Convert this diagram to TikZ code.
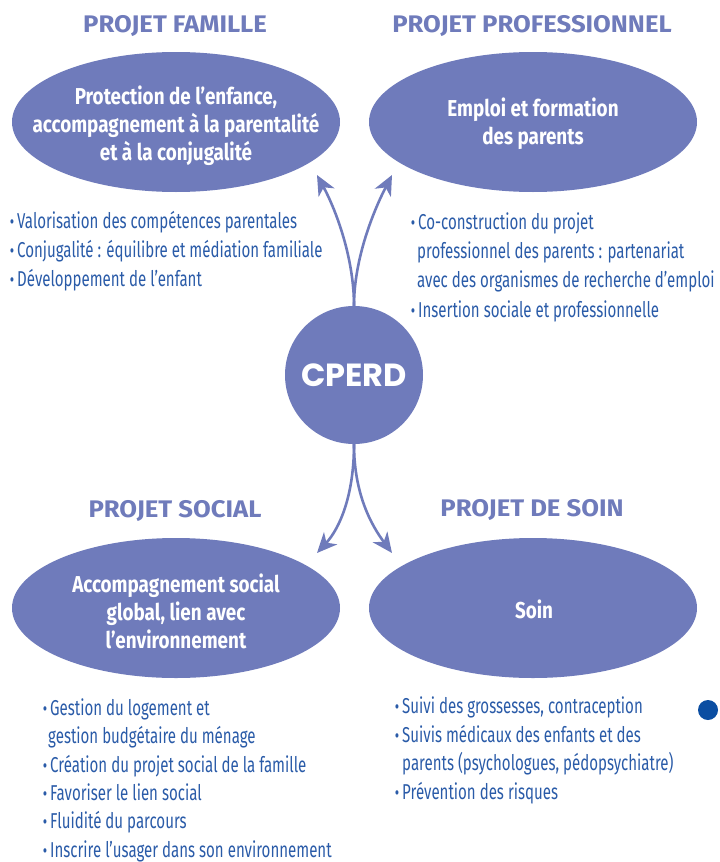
\documentclass[tikz,border=0pt]{standalone}
\usepackage{fontspec}
\usepackage{graphicx}
\usetikzlibrary{shapes.geometric,arrows.meta}
\newfontfamily\bodyfont[FakeStretch=0.70]{Fira Sans}
\newfontfamily\ellfont[FakeStretch=0.82]{Fira Sans}
\newfontfamily\ttlfont[FakeStretch=1.07]{Fira Sans}
\newfontfamily\logofont{Poppins}
\definecolor{violet}{HTML}{6F7BBB}
\definecolor{bluetxt}{HTML}{2A5BA8}
\definecolor{dotblue}{HTML}{0B4EA2}
\newcommand{\blt}{\llap{\scalebox{0.9}{\textbullet}\hspace{3pt}}}
\tikzset{
  ell/.style={ellipse, fill=violet, minimum width=328pt, minimum height=140pt, inner sep=0pt},
  elltext/.style={text=white, align=center, inner sep=0pt, font=\ellfont\bfseries\fontsize{23}{28}\selectfont},
  ttl/.style={text=violet, font=\ttlfont\bfseries\fontsize{24}{28}\selectfont, anchor=center},
  bl/.style={text=bluetxt, font=\bodyfont\fontsize{21.5}{29}\selectfont, anchor=base west, inner sep=0pt},
  conn/.style={draw=violet, line width=2.6pt, -{Stealth[length=20pt,width=18pt,inset=6pt]}}
}
\begin{document}
\begin{tikzpicture}[x=1pt,y=-1pt]
\useasboundingbox (0,0) rectangle (720,862);
% titles
\node[ttl] (t1) at (175,26) {PROJET FAMILLE};
\node[ttl] (t2) at (532,26) {PROJET PROFESSIONNEL};
\node[ttl] (t3) at (175,511) {PROJET SOCIAL};
\node[ttl] (t4) at (532,510) {PROJET DE SOIN};
% ellipses
\node[ell] (e1) at (176,122) {};
\node[ell] (e2) at (533,122) {};
\node[ell] (e3) at (176,608) {};
\node[ell] (e4) at (533,608) {};
\node[elltext] (e1t) at (176,126) {Protection de l’enfance,\\accompagnement à la parentalité\\et à la conjugalité};
\node[elltext] (e2t) at (533,124) {Emploi et formation\\des parents};
\node[elltext] (e3t) at (176,611) {Accompagnement social\\global, lien avec\\l’environnement};
\node[elltext] (e4t) at (534,609) {Soin};
% center
\node[circle, fill=violet, minimum size=138pt, inner sep=0pt, text=white,
  font=\logofont\bfseries\fontsize{32}{36}\selectfont] (cperd) at (354,375) {CPERD};
% arrow tips
\coordinate (a1) at (317,175);
\coordinate (a2) at (392,175);
\coordinate (a3) at (317,553);
\coordinate (a4) at (392,553);
\draw[conn] (cperd.north) .. controls (354,258) and (336,210) .. (a1);
\draw[conn] (cperd.north) .. controls (354,258) and (374,210) .. (a2);
\draw[conn] (cperd.south) .. controls (354,495) and (340,528) .. (a3);
\draw[conn] (cperd.south) .. controls (354,495) and (372,526) .. (a4);
% list 1
\node[bl] (l11) at (17,228) {\blt Valorisation des compétences parentales};
\node[bl] (l12) at (17,257) {\blt Conjugalité : équilibre et médiation familiale};
\node[bl] (l13) at (17,286) {\blt Développement de l’enfant};
% list 2
\node[bl] (l21) at (418,229) {\blt Co-construction du projet};
\node[bl] (l22) at (417,258) {professionnel des parents : partenariat};
\node[bl] (l23) at (417,287) {avec des organismes de recherche d’emploi};
\node[bl] (l24) at (418,317) {\blt Insertion sociale et professionnelle};
% list 3
\node[bl] (l31) at (50,715) {\blt Gestion du logement et};
\node[bl] (l32) at (48,743) {gestion budgétaire du ménage};
\node[bl] (l33) at (50,772) {\blt Création du projet social de la famille};
\node[bl] (l34) at (50,800) {\blt Favoriser le lien social};
\node[bl] (l35) at (50,828) {\blt Fluidité du parcours};
\node[bl] (l36) at (50,857) {\blt Inscrire l’usager dans son environnement};
% list 4
\node[bl] (l41) at (402,713) {\blt Suivi des grossesses, contraception};
\node[bl] (l42) at (402,742) {\blt Suivis médicaux des enfants et des};
\node[bl] (l43) at (402,770) {parents (psychologues, pédopsychiatre)};
\node[bl] (l44) at (402,799) {\blt Prévention des risques};
% dot
\node[circle, fill=dotblue, minimum size=20pt, inner sep=0pt] (dot) at (708,710) {};
\end{tikzpicture}
\end{document}
